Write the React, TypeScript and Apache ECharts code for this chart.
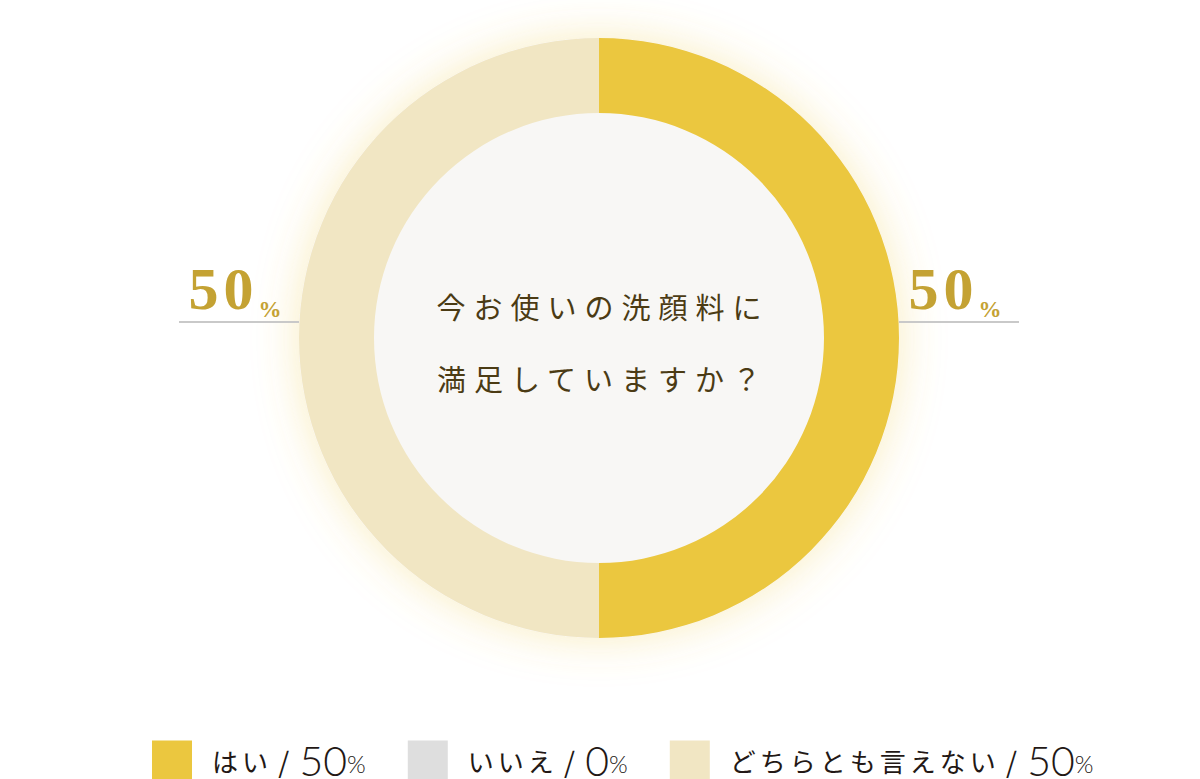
import React, { useEffect, useRef } from "react";
import * as echarts from "echarts";

// answers and their shares (%)
const answers = ["はい", "いいえ", "どちらとも言えない"];
const percents = [50, 0, 50];
const sliceColors = ["#ebc73f", "#dedede", "#f1e6c3"];
const question = ["今お使いの洗顔料に", "満足していますか？"];

const JP = "'Noto Sans CJK JP', sans-serif";
const SERIF = "'Liberation Serif', 'DejaVu Serif', serif";
const GOLD = "#c4a233";
const INK = "#231815";

const App: React.FC = () => {
  const chartRef = useRef<HTMLDivElement>(null);

  useEffect(() => {
    document.body.style.margin = "0";
    if (!chartRef.current) return;

    const chart = echarts.init(chartRef.current, undefined, { renderer: "svg" });

    const legendRich: Record<string, any> = {
      s: { fontFamily: JP, fontSize: 28, lineHeight: 30, color: INK, padding: [0, 4, 0, 0] },
      n: { fontFamily: "Lato", fontWeight: 300, fontSize: 41, lineHeight: 30, color: INK },
      p: {
        fontFamily: "Lato",
        fontWeight: 300,
        fontSize: 24,
        lineHeight: 20,
        verticalAlign: "bottom",
        color: INK,
      },
    };
    answers.forEach((a, i) => {
      legendRich[`t${i}`] = {
        fontFamily: JP,
        fontSize: 26,
        lineHeight: 30,
        color: INK,
        width: a.length * 30,
        padding: [0, 0, 0, 15],
      };
    });

    const option: echarts.EChartsOption = {
      animation: false,
      legend: {
        data: answers,
        icon: "rect",
        itemWidth: 40,
        itemHeight: 40,
        itemGap: 42,
        left: 152,
        top: 740,
        padding: 0,
        selectedMode: false,
        formatter: (name: string) => {
          const i = answers.indexOf(name);
          return `{t${i}|${name}}{s| / }{n|${percents[i]}}{p|%}`;
        },
        textStyle: { rich: legendRich },
      },
      graphic: [
        {
          type: "text",
          x: 603,
          y: 342,
          z: 100,
          silent: true,
          style: {
            text: question.join("\n"),
            textAlign: "center",
            textVerticalAlign: "middle",
            align: "center",
            verticalAlign: "middle",
            fontSize: 29,
            fontFamily: JP,
            lineHeight: 72,
            fill: "#4b3b14",
          } as any,
        },
      ],
      series: [
        {
          // backdrop disc with the soft glow
          type: "pie",
          silent: true,
          center: [599, 338],
          radius: [0, 300],
          label: { show: false },
          labelLine: { show: false },
          data: [
            {
              value: 1,
              name: "bg",
              itemStyle: {
                color: "#f8f7f5",
                shadowBlur: 45,
                shadowColor: "rgba(238, 205, 70, 0.35)",
              },
            },
          ],
        },
        {
          type: "pie",
          silent: true,
          center: [599, 338],
          radius: [225, 300],
          startAngle: 90,
          clockwise: true,
          avoidLabelOverlap: false,
          itemStyle: { borderWidth: 0 },
          label: {
            position: "outside",
            distanceToLabelLine: 0,
            formatter: (p: any) => `{n|${p.value}}{p|%}{g|}\n{l|}`,
            rich: {
              n: {
                fontFamily: SERIF,
                fontWeight: "bold",
                fontSize: 60,
                lineHeight: 64,
                color: GOLD,
                align: "center",
                width: 70,
              },
              p: {
                fontFamily: SERIF,
                fontWeight: "bold",
                fontSize: 23,
                lineHeight: 48,
                verticalAlign: "bottom",
                color: GOLD,
                align: "center",
              },
              g: { width: 8, align: "center" },
              l: {
                width: 120,
                height: 2,
                lineHeight: 2,
                backgroundColor: "#c9c9c9",
              },
            },
          },
          labelLine: { show: false, length: 0, length2: 0 },
          labelLayout: { dy: -48 },
          data: answers.map((name, i) => ({
            name,
            value: percents[i],
            itemStyle: { color: sliceColors[i] },
            label: { show: percents[i] > 0 },
          })),
        },
      ],
    };

    chart.setOption(option);

    return () => {
      chart.dispose();
    };
  }, []);

  return (
    <>
      <style>{`
        #chart text[style*="29px"] { letter-spacing: 8px; }
        #chart text[style*="26px"] { letter-spacing: 4px; }
        #chart text[style*="60px"] { letter-spacing: 5px; }
      `}</style>
      <div id="chart" ref={chartRef} style={{ width: 1200, height: 779 }} />
    </>
  );
};

export default App;
